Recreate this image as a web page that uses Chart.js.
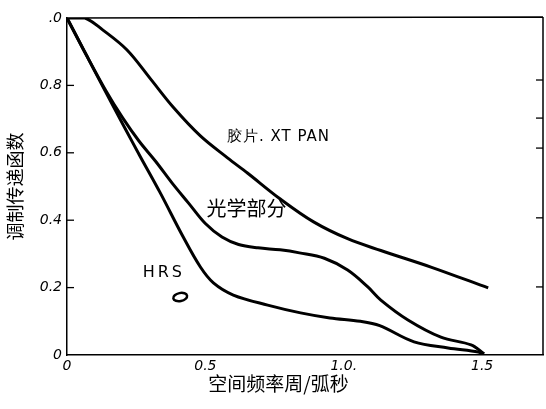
<!DOCTYPE html>
<html>
<head>
<meta charset="utf-8">
<script src="https://cdn.jsdelivr.net/npm/chart.js@4.4.0/dist/chart.umd.min.js"></script>
<style>
  html, body { margin: 0; padding: 0; background: #fff; }
  #wrap { width: 546px; height: 409px; }
</style>
</head>
<body>
<div id="wrap"><canvas id="c"></canvas></div>
<script>
// film XT PAN curve
const xtPanX = [0, 0.065, 0.13, 0.217, 0.301, 0.384, 0.482, 0.58, 0.652, 0.772, 0.891, 1.014, 1.134, 1.315, 1.522];
const xtPanY = [1.0, 1.0, 0.964, 0.905, 0.82, 0.735, 0.65, 0.585, 0.54, 0.462, 0.395, 0.345, 0.31, 0.261, 0.199];

// optical part curve
const opticX = [0, 0.07, 0.14, 0.2, 0.26, 0.32, 0.38, 0.44, 0.5, 0.56, 0.62, 0.69, 0.77, 0.84, 0.93, 1.014, 1.087, 1.134, 1.232, 1.351, 1.46, 1.507];
const opticY = [1.0, 0.89, 0.785, 0.705, 0.635, 0.575, 0.51, 0.45, 0.39, 0.35, 0.328, 0.318, 0.312, 0.303, 0.287, 0.252, 0.202, 0.163, 0.104, 0.053, 0.03, 0.004];

// HRS curve
const hrsX = [0, 0.07, 0.14, 0.21, 0.264, 0.337, 0.42, 0.482, 0.529, 0.601, 0.725, 0.844, 0.95, 1.06, 1.13, 1.254, 1.377, 1.486, 1.507];
const hrsY = [1.0, 0.89, 0.78, 0.672, 0.59, 0.481, 0.35, 0.261, 0.214, 0.178, 0.148, 0.125, 0.11, 0.1, 0.087, 0.039, 0.021, 0.009, 0.003];

const xTickValues = [0, 0.5, 1.0, 1.5];
const xTickLabels = ["0", "0.5", "1.0.", "1.5"];
const yTickValues = [0, 0.2, 0.4, 0.6, 0.8, 1.0];
const yTickLabels = ["0", "0.2", "0.4", "0.6", "0.8", ".0"];
const rightTickValues = [0.816, 0.703, 0.614, 0.407, 0.202];

const curveNames = ["胶片. XT PAN", "光学部分", "HRS"];
const xTitle = "空间频率周/弧秒";
const yTitle = "调制传递函数";

const toPoints = (xs, ys) => xs.map((x, i) => ({ x: x, y: ys[i] }));

const handFont = "'DejaVu Sans', sans-serif";
const cjkFont = "'Noto Sans CJK SC', sans-serif";

// frame, inward ticks and the hand-written labels
const decorations = {
  id: "decorations",
  afterDatasetsDraw(chart) {
    const { ctx, chartArea, scales } = chart;
    const xs = scales.x, ys = scales.y;
    ctx.save();
    ctx.strokeStyle = "#000";
    ctx.lineWidth = 1.5;
    ctx.beginPath();
    ctx.moveTo(chartArea.left, chartArea.top);
    ctx.lineTo(chartArea.right, chartArea.top - 1);
    ctx.moveTo(chartArea.right, chartArea.top - 1);
    ctx.lineTo(chartArea.right, chartArea.bottom);
    ctx.stroke();

    ctx.lineWidth = 1.3;
    yTickValues.slice(1, 5).forEach((v) => {
      const py = ys.getPixelForValue(v);
      ctx.beginPath();
      ctx.moveTo(chartArea.left, py);
      ctx.lineTo(chartArea.left + 7, py);
      ctx.stroke();
    });
    rightTickValues.forEach((v) => {
      const py = ys.getPixelForValue(v);
      ctx.beginPath();
      ctx.moveTo(chartArea.right, py);
      ctx.lineTo(chartArea.right - 7, py);
      ctx.stroke();
    });

    ctx.fillStyle = "#000";
    ctx.textAlign = "center";
    ctx.textBaseline = "middle";
    ctx.letterSpacing = "1px";
    ctx.font = "15px " + handFont;
    ctx.fillText(curveNames[0], xs.getPixelForValue(0.764), ys.getPixelForValue(0.647));
    ctx.letterSpacing = "0px";
    ctx.font = "20px " + cjkFont;
    ctx.fillText(curveNames[1], xs.getPixelForValue(0.649), ys.getPixelForValue(0.436));
    ctx.letterSpacing = "3px";
    ctx.font = "16px " + handFont;
    ctx.fillText(curveNames[2], xs.getPixelForValue(0.35), ys.getPixelForValue(0.243));
    ctx.letterSpacing = "0px";

    // small oval under HRS
    ctx.lineWidth = 2.5;
    ctx.beginPath();
    ctx.ellipse(xs.getPixelForValue(0.409), ys.getPixelForValue(0.172), 7, 4, -0.2, 0, Math.PI * 2);
    ctx.stroke();

    // x axis title
    ctx.font = "19px " + cjkFont;
    ctx.fillText(xTitle, xs.getPixelForValue(0.764), chartArea.bottom + 29);
    ctx.restore();
  }
};

const lineStyle = {
  showLine: true,
  borderColor: "#000",
  borderWidth: 3,
  pointRadius: 0,
  tension: 0.35,
  fill: false
};

new Chart(document.getElementById("c"), {
  type: "scatter",
  data: {
    datasets: [
      { label: curveNames[0], data: toPoints(xtPanX, xtPanY), ...lineStyle },
      { label: curveNames[1], data: toPoints(opticX, opticY), ...lineStyle },
      { label: curveNames[2], data: toPoints(hrsX, hrsY), ...lineStyle }
    ]
  },
  options: {
    responsive: true,
    maintainAspectRatio: false,
    animation: false,
    layout: { padding: { top: 18, right: 3, left: 0, bottom: 0 } },
    plugins: {
      legend: { display: false },
      tooltip: { enabled: false }
    },
    scales: {
      x: {
        type: "linear",
        min: 0,
        max: 1.72,
        afterBuildTicks: (scale) => {
          scale.ticks = xTickValues.map((v) => ({ value: v }));
        },
        afterFit: (scale) => { scale.height = 54; },
        grid: { display: false, drawTicks: false },
        border: { display: true, color: "#000", width: 1.5 },
        ticks: {
          color: "#000",
          padding: 3,
          maxRotation: 0,
          font: { family: handFont, size: 14, style: "italic" },
          callback: (val) => {
            const i = xTickValues.indexOf(val);
            return i >= 0 ? xTickLabels[i] : "";
          }
        }
      },
      y: {
        min: 0,
        max: 1.0,
        afterBuildTicks: (scale) => {
          scale.ticks = yTickValues.map((v) => ({ value: v }));
        },
        afterFit: (scale) => { scale.width = 67; },
        grid: { display: false, drawTicks: false },
        border: { display: true, color: "#000", width: 1.5 },
        ticks: {
          color: "#000",
          padding: 5,
          font: { family: handFont, size: 14, style: "italic" },
          callback: (val) => {
            const i = yTickValues.indexOf(val);
            return i >= 0 ? yTickLabels[i] : "";
          }
        },
        title: {
          display: true,
          text: yTitle,
          color: "#000",
          padding: { top: 4, bottom: 0 },
          font: { family: cjkFont, size: 18 }
        }
      }
    }
  },
  plugins: [decorations]
});
</script>
</body>
</html>
